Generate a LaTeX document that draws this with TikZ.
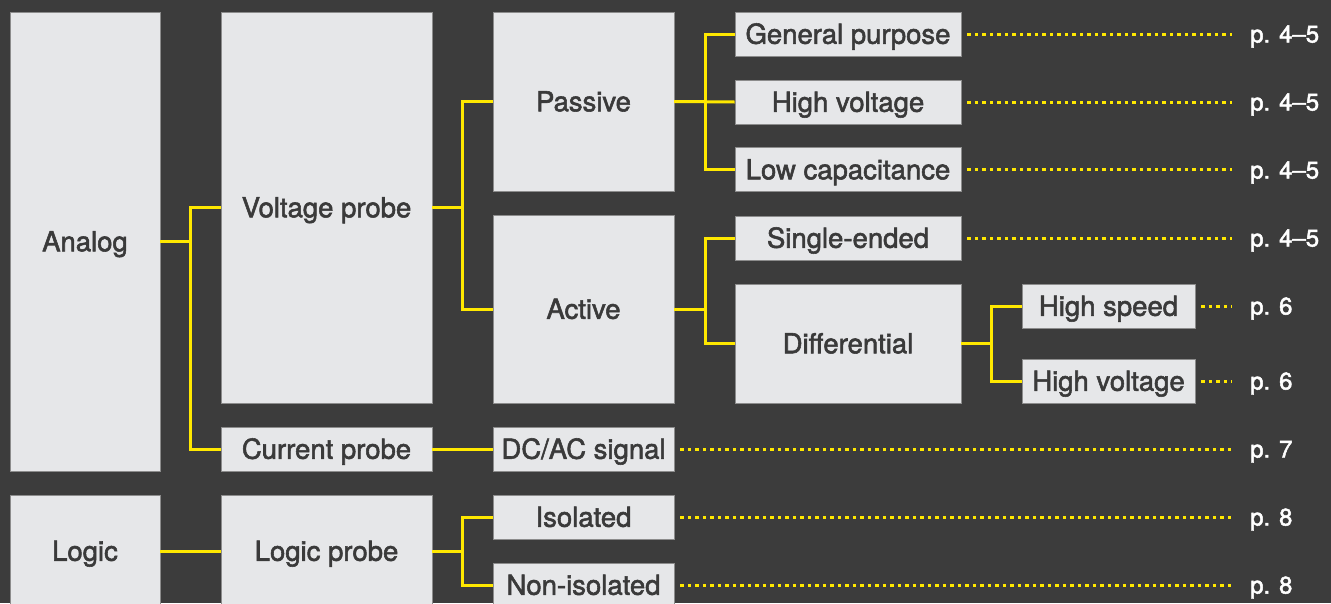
\documentclass[tikz,border=0pt]{standalone}
\usepackage{fontspec}
\setmainfont{TeX Gyre Heros}
\newfontfamily\medfont[Ligatures=TeX, FakeBold=2]{TeX Gyre Heros}
\usetikzlibrary{positioning}
\definecolor{bgdark}{HTML}{3C3C3C}
\definecolor{boxgray}{HTML}{E6E7E9}
\definecolor{boxedge}{HTML}{8C8C8C}
\definecolor{textgray}{HTML}{3A3A3A}
\definecolor{probeyellow}{HTML}{FFE800}
\newcommand{\probefont}{\medfont\fontsize{27.5}{32}\selectfont}
\newcommand{\pagefont}{\medfont\fontsize{24}{28}\selectfont}
\tikzstyle{box} = [rectangle, draw=boxedge, line width=0.8pt, fill=boxgray, text=textgray, inner sep=0pt, text height=19.5pt, text depth=0pt, font=\probefont]
\tikzstyle{page} = [anchor=west, inner sep=0pt, text height=17pt, text depth=0pt, text=white, font=\pagefont]
\tikzstyle{link} = [draw=probeyellow, line width=3pt]
\tikzstyle{leader} = [draw=probeyellow, line width=3pt, dash pattern=on 3.5pt off 4pt]
\begin{document}
\begin{tikzpicture}[x=1pt, y=-1pt]

% Background
\useasboundingbox (0,0) rectangle (1331,603);
\fill[bgdark] (0,0) rectangle (1331,603);

% Signal type
\node (analog) [box, minimum width=150pt, minimum height=459pt] at (85,241.5) {Analog};
\node (logic) [box, minimum width=150pt, minimum height=112pt] at (85,551) {Logic};

% Probe type
\node (voltage) [box, minimum width=211pt, minimum height=391pt] at (326.5,207.5) {Voltage probe};
\node (current) [box, minimum width=211pt, minimum height=44pt] at (326.5,449) {Current probe};
\node (logicprobe) [box, minimum width=211pt, minimum height=112pt] at (326.5,551) {Logic probe};

% Voltage probe breakdown
\node (passive) [box, minimum width=181pt, minimum height=179pt] at (583.5,101.5) {Passive};
\node (active) [box, minimum width=181pt, minimum height=188pt] at (583.5,309) {Active};
\node (dcac) [box, minimum width=181pt, minimum height=44pt] at (583.5,449) {DC/AC signal};
\node (isolated) [box, minimum width=181pt, minimum height=44pt] at (583.5,517) {Isolated};
\node (nonisolated) [box, minimum width=181pt, minimum height=44pt] at (583.5,585) {Non-isolated};

% Passive and active breakdown
\node (general) [box, minimum width=226pt, minimum height=44pt] at (848,34) {General purpose};
\node (highvolt) [box, minimum width=226pt, minimum height=44pt] at (848,102) {High voltage};
\node (lowcap) [box, minimum width=226pt, minimum height=44pt] at (848,169.5) {Low capacitance};
\node (single) [box, minimum width=226pt, minimum height=44pt] at (848,238) {Single-ended};
\node (diff) [box, minimum width=226pt, minimum height=119pt] at (848,343.5) {Differential};

% Differential breakdown
\node (highspeed) [box, minimum width=173pt, minimum height=44pt] at (1108.5,306) {High speed};
\node (diffvolt) [box, minimum width=173pt, minimum height=44pt] at (1108.5,381) {High voltage};

% Page references
\node (pgeneral) [page] at (1250,34) {p. 4--5};
\node (phighvolt) [page] at (1250,102) {p. 4--5};
\node (plowcap) [page] at (1250,170) {p. 4--5};
\node (psingle) [page] at (1250,238) {p. 4--5};
\node (phighspeed) [page] at (1250,306) {p. 6};
\node (pdiffvolt) [page] at (1250,381) {p. 6};
\node (pdcac) [page] at (1250,449) {p. 7};
\node (pisolated) [page] at (1250,517) {p. 8};
\node (pnonisolated) [page] at (1250,585) {p. 8};

% Tree connections
\draw [link] (analog.east) -- ++(30,0) |- (voltage.west);
\draw [link] (analog.east) ++(30,0) |- (current.west);
\draw [link] (logic.east) -- (logicprobe.west);
\draw [link] (voltage.east) -- ++(30,0) |- (passive.west);
\draw [link] (voltage.east) ++(30,0) |- (active.west);
\draw [link] (current.east) -- (dcac.west);
\draw [link] (logicprobe.east) -- ++(30,0) |- (isolated.west);
\draw [link] (logicprobe.east) ++(30,0) |- (nonisolated.west);
\draw [link] (passive.east) -- ++(31,0) |- (general.west);
\draw [link] (passive.east) -- (highvolt.west);
\draw [link] (passive.east) ++(31,0) |- (lowcap.west);
\draw [link] (active.east) -- ++(31,0) |- (single.west);
\draw [link] (active.east) ++(31,0) |- (diff.west);
\draw [link] (diff.east) -- ++(30,0) |- (highspeed.west);
\draw [link] (diff.east) ++(30,0) |- (diffvolt.west);

% Dotted leaders to page numbers
\foreach \from/\to in {general/pgeneral, highvolt/phighvolt, lowcap/plowcap, single/psingle, highspeed/phighspeed, diffvolt/pdiffvolt, dcac/pdcac, isolated/pisolated, nonisolated/pnonisolated}
  \draw [leader] ([xshift=6pt]\from.east) -- ([xshift=-18pt]\to.west |- \from.east);

\end{tikzpicture}
\end{document}
